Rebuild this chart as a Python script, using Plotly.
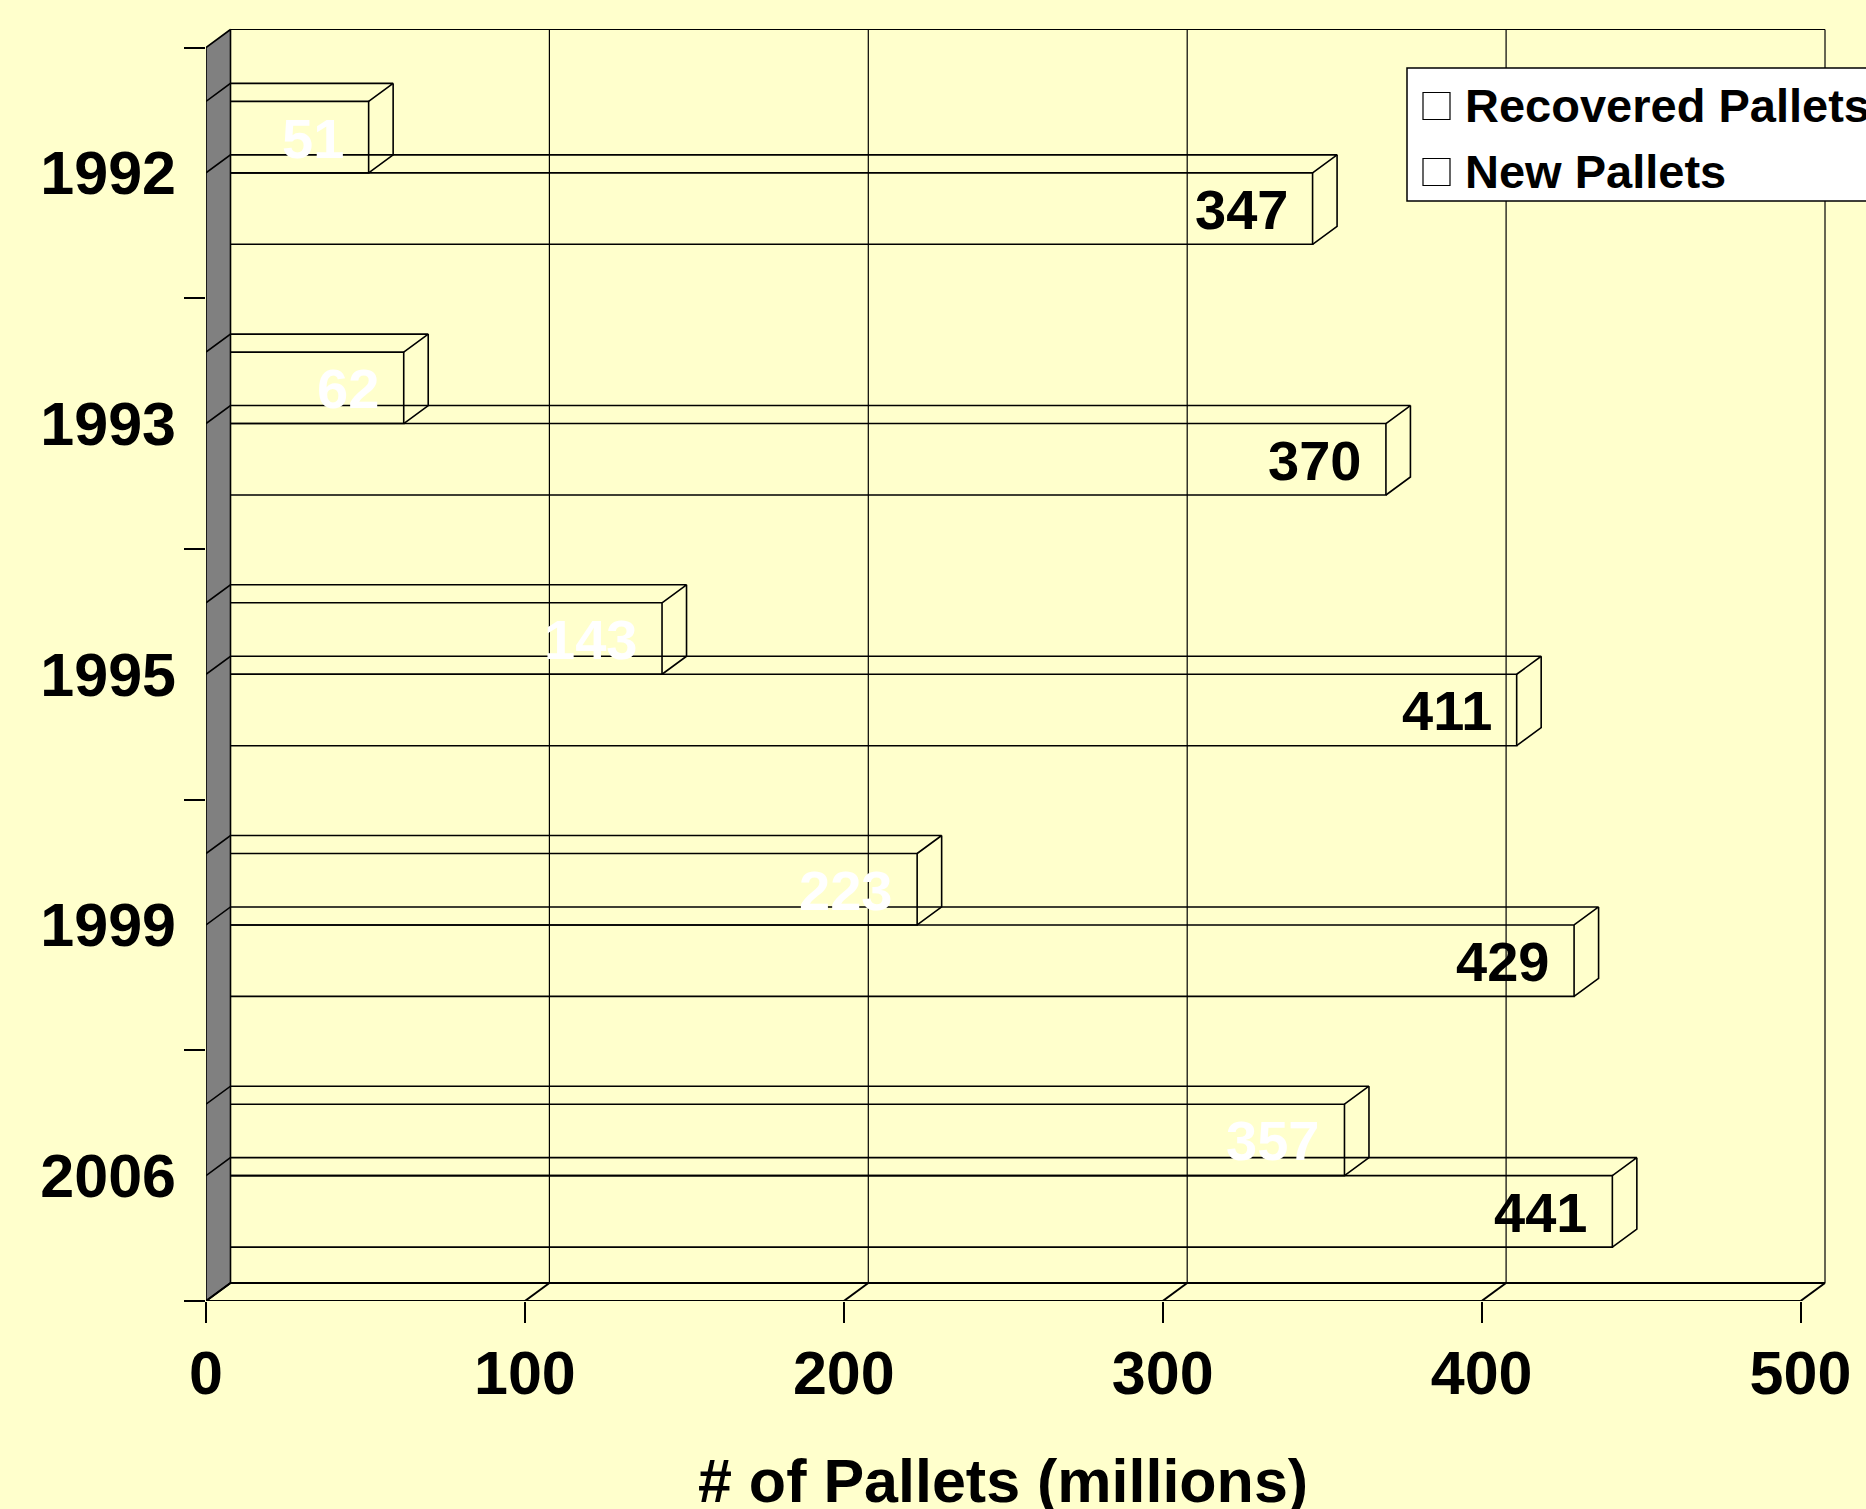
import plotly.graph_objects as go

# ---------------- data ----------------
years = ["1992", "1993", "1995", "1999", "2006"]
recovered = [51, 62, 143, 223, 357]
new_pallets = [347, 370, 411, 429, 441]
series_names = ["Recovered Pallets", "New Pallets"]
x_ticks = [0, 100, 200, 300, 400, 500]
x_title = "# of Pallets (millions)"

# ---------------- style / geometry ----------------
W, H = 1866, 1509
BG = "#FFFFCC"
FONT = "Liberation Sans, Arial, sans-serif"
ML, MR, MT, MB = 206, 26, 25, 208
PX_PER_X = 3.189          # pixels per data unit along x
PX_PER_CAT = 250.7        # pixels per category band
DEPTH_PX = (24.5, 18.0)   # 3-D depth offset in pixels (right, up)

plot_w = W - ML - MR
plot_h = H - MT - MB
xmax = plot_w / PX_PER_X
ylen = plot_h / PX_PER_CAT
n = len(years)
y_bottom = n - 0.5
y_top = y_bottom - ylen
dx = DEPTH_PX[0] / PX_PER_X
dy = DEPTH_PX[1] / PX_PER_CAT
BAR_FRAC = 0.57
bw = BAR_FRAC / 2
pos = list(range(n))
x_front_max = x_ticks[-1]


def px_to_paper_x(px):
    return (px - ML) / plot_w


def px_to_paper_y(py):
    return (H - MB - py) / plot_h


fig = go.Figure()

# left wall (grey slab)
wall_x = [0, 0, dx, dx, 0]
wall_y = [-0.5, y_bottom, y_bottom - dy, -0.5 - dy, -0.5]
fig.add_trace(go.Scatter(x=wall_x, y=wall_y, mode="lines", fill="toself",
                         fillcolor="#808080", line=dict(color="black", width=1.6),
                         hoverinfo="skip", showlegend=False, cliponaxis=False))

# back-wall vertical gridlines, top edge, floor
gx, gy = [], []
for v in x_ticks[1:]:
    gx += [v + dx, v + dx, None]
    gy += [y_bottom - dy, -0.5 - dy, None]
gx += [dx, x_front_max + dx, None]
gy += [-0.5 - dy, -0.5 - dy, None]
fig.add_trace(go.Scatter(x=gx, y=gy, mode="lines", line=dict(color="black", width=1.2),
                         hoverinfo="skip", showlegend=False, cliponaxis=False))

fx, fy = [], []
fx += [0, x_front_max, None]
fy += [y_bottom, y_bottom, None]
fx += [dx, x_front_max + dx, None]
fy += [y_bottom - dy, y_bottom - dy, None]
for v in x_ticks:
    fx += [v, v + dx, None]
    fy += [y_bottom, y_bottom - dy, None]
fig.add_trace(go.Scatter(x=fx, y=fy, mode="lines", line=dict(color="black", width=2),
                         hoverinfo="skip", showlegend=False, cliponaxis=False))

# bars (front faces)
series = [recovered, new_pallets]
for t, vals in enumerate(series):
    fig.add_trace(go.Bar(x=vals, y=pos, orientation="h", name=series_names[t],
                         marker=dict(color="rgba(0,0,0,0)", line=dict(color="black", width=1.6)),
                         hoverinfo="skip", showlegend=False, cliponaxis=False))

# 3-D top and side faces of bars
for t, vals in enumerate(series):
    lx, ly = [], []
    for i, v in enumerate(vals):
        yt = i - bw + t * bw
        yb = yt + bw
        lx += [0, dx, v + dx, v, None]
        ly += [yt, yt - dy, yt - dy, yt, None]
        lx += [v + dx, v + dx, v, None]
        ly += [yt - dy, yb - dy, yb, None]
    fig.add_trace(go.Scatter(x=lx, y=ly, mode="lines", line=dict(color="black", width=1.6),
                             hoverinfo="skip", showlegend=False, cliponaxis=False))

# data labels
label_colors = ["white", "black"]
for t, vals in enumerate(series):
    for i, v in enumerate(vals):
        yc = i - bw / 2 + t * bw
        fig.add_annotation(x=v, y=yc, xref="x", yref="y", text=str(v), showarrow=False,
                           xanchor="right", yanchor="middle", xshift=-23, yshift=-1,
                           font=dict(family=FONT, size=56, color=label_colors[t], weight="bold"))

# axis title
fig.add_annotation(x=x_front_max / 2, y=px_to_paper_y(1481), xref="x", yref="paper",
                   text=x_title, showarrow=False, xanchor="center", yanchor="middle",
                   font=dict(family=FONT, size=61, color="black", weight="bold"))

# legend (custom, clipped at right edge like the original)
fig.add_shape(type="rect", xref="paper", yref="paper",
              x0=px_to_paper_x(1407), x1=px_to_paper_x(1920),
              y0=px_to_paper_y(201), y1=px_to_paper_y(68),
              fillcolor="white", line=dict(color="black", width=1.5), layer="above")
legend_rows = [106, 172]
for k, name in enumerate(series_names):
    cy = legend_rows[k]
    fig.add_shape(type="rect", xref="paper", yref="paper",
                  x0=px_to_paper_x(1423), x1=px_to_paper_x(1450),
                  y0=px_to_paper_y(cy + 13.5), y1=px_to_paper_y(cy - 13.5),
                  fillcolor="white", line=dict(color="black", width=1.2), layer="above")
    fig.add_annotation(x=px_to_paper_x(1463), y=px_to_paper_y(cy), xref="paper", yref="paper",
                       text=name, showarrow=False, xanchor="left", yanchor="middle",
                       font=dict(family=FONT, size=47, color="black", weight="bold"))

fig.update_layout(
    width=W, height=H,
    margin=dict(l=ML, r=MR, t=MT, b=MB, pad=0),
    paper_bgcolor=BG, plot_bgcolor=BG,
    barmode="group", bargap=1 - BAR_FRAC, bargroupgap=0,
    showlegend=False,
    font=dict(family=FONT, color="black"),
)
fig.update_xaxes(range=[0, xmax], tickmode="array", tickvals=x_ticks,
                 ticks="outside", ticklen=21, tickwidth=1.6, tickcolor="black",
                 showgrid=False, zeroline=False, showline=False,
                 ticklabelstandoff=-2,
                 tickfont=dict(family=FONT, size=61, color="black", weight="bold"))
fig.update_yaxes(range=[y_bottom, y_top], tickmode="array", tickvals=pos, ticktext=years,
                 ticks="", showgrid=False, zeroline=False, showline=False,
                 minor=dict(tickmode="array", tickvals=[p - 0.5 for p in pos] + [y_bottom],
                            ticks="outside", ticklen=21, tickwidth=1.6, tickcolor="black"),
                 ticklabelstandoff=29,
                 tickfont=dict(family=FONT, size=61, color="black", weight="bold"))

fig.write_html(
    "out.html",
    config={"displayModeBar": False},
    post_script="document.documentElement.style.margin='0';"
                "document.body.style.margin='0';"
                "document.body.style.overflow='hidden';"
                "document.body.style.background='" + BG + "';",
)
